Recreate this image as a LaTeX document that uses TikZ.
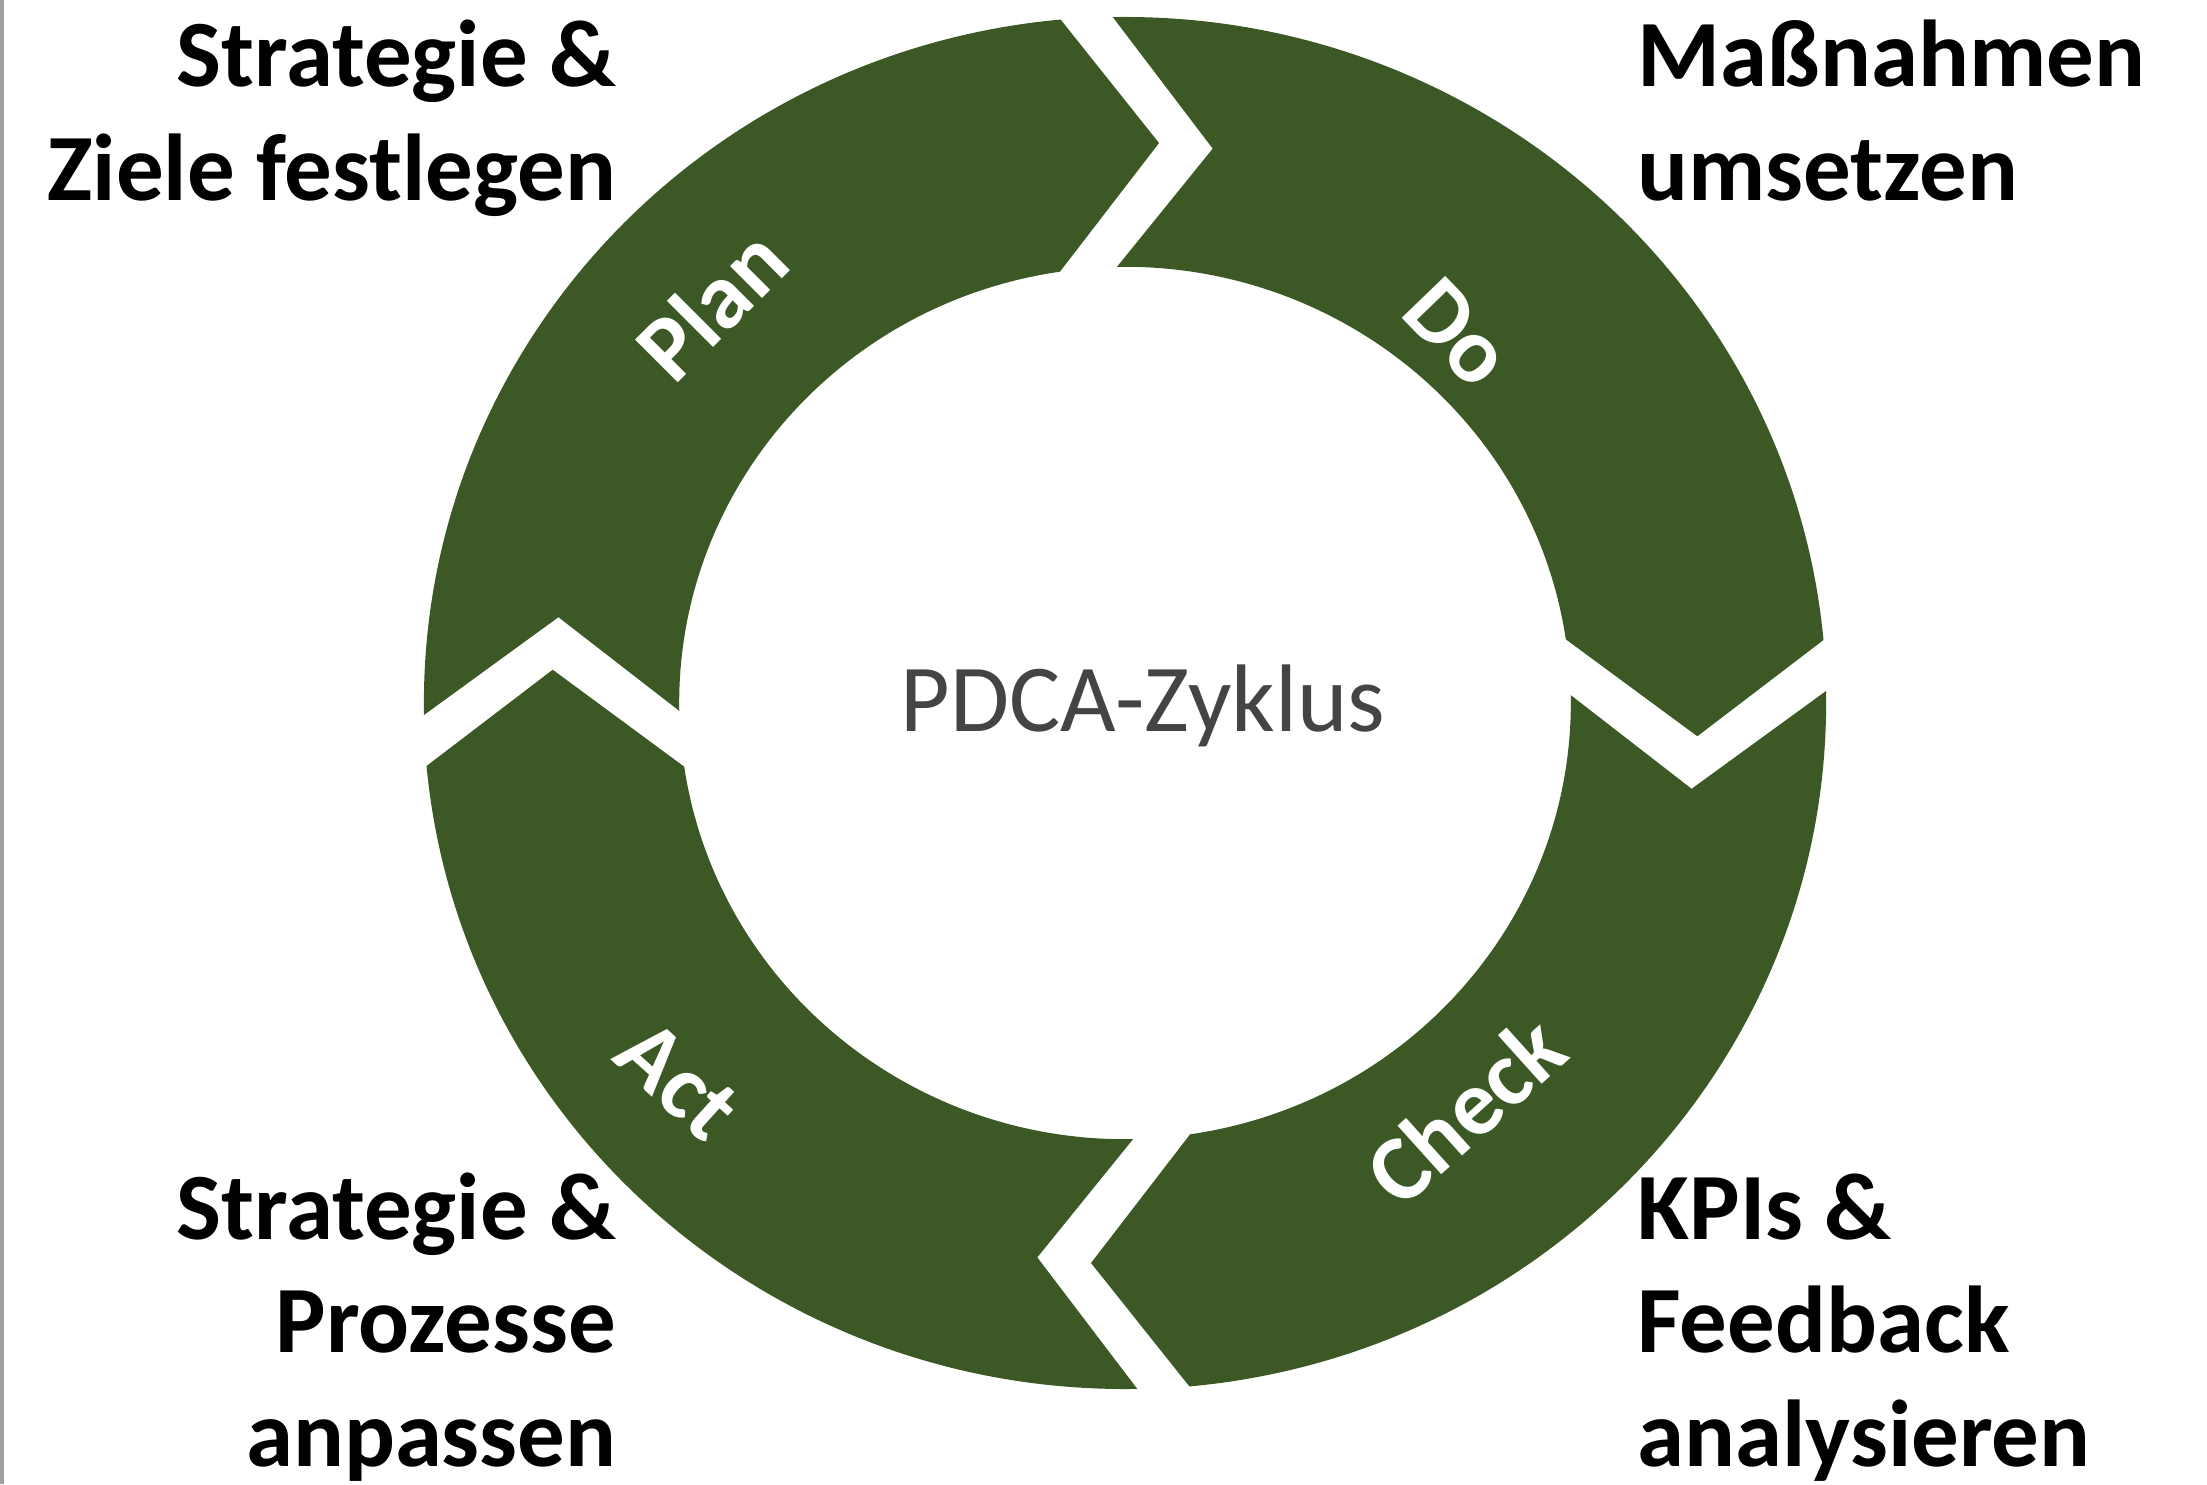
\documentclass[tikz,border=0pt]{standalone}
\usepackage{fontspec}
\setmainfont{Carlito}
\definecolor{pdcagreen}{RGB}{59,88,37}
\definecolor{pdcagray}{RGB}{68,68,68}
\definecolor{edgegray}{RGB}{160,160,160}
\begin{document}
\begin{tikzpicture}[x=0.01cm,y=0.01cm,
  seg/.style={fill=pdcagreen, draw=none},
  phase/.style={text=white, font=\fontsize{26.5}{32}\selectfont\bfseries, inner sep=0pt},
  side/.style={text=black, font=\fontsize{27}{32}\selectfont\bfseries, inner sep=0pt},
  centre/.style={text=pdcagray, font=\fontsize{27.3}{32}\selectfont, inner sep=0pt}
  ]
\useasboundingbox (0,0) rectangle (2207,1484);
\fill[white] (0,0) rectangle (2207,1484);
\fill[edgegray] (0,0) rectangle (4,1484);
\begin{scope}[shift={(1125,781)}, xscale=1.022]
  \foreach \r in {0,-90,-180,-270}{
    \begin{scope}[rotate=\r]
      \fill[seg] (181:686) arc[start angle=181, end angle=95.3, radius=6.86cm]
        -- (86.6:561) -- (98.4:436)
        arc[start angle=98.4, end angle=181, radius=4.36cm]
        -- (171.2:561) -- cycle;
    \end{scope}
  }
\end{scope}
\node[phase, rotate=45] (plan) at (711,1180) {Plan};
\node[phase, rotate=-46] (do) at (1458,1151) {Do};
\node[phase, rotate=42] (check) at (1465,374) {Check};
\node[phase, rotate=-42] (act) at (678,404) {Act};
\node[centre, anchor=base] (title) at (1143,753) {PDCA-Zyklus};
\node[side, anchor=base east] (tl1) at (617,1397) {Strategie \&};
\node[side, anchor=base east] (tl2) at (617,1283) {Ziele festlegen};
\node[side, anchor=base west] (tr1) at (1637,1397) {Maßnahmen};
\node[side, anchor=base west] (tr2) at (1637,1283) {umsetzen};
\node[side, anchor=base east] (bl1) at (617,245) {Strategie \&};
\node[side, anchor=base east] (bl2) at (617,132) {Prozesse};
\node[side, anchor=base east] (bl3) at (617,18) {anpassen};
\node[side, anchor=base west] (br1) at (1637,245) {KPIs \&};
\node[side, anchor=base west] (br2) at (1637,132) {Feedback};
\node[side, anchor=base west] (br3) at (1637,18) {analysieren};
\end{tikzpicture}
\end{document}
